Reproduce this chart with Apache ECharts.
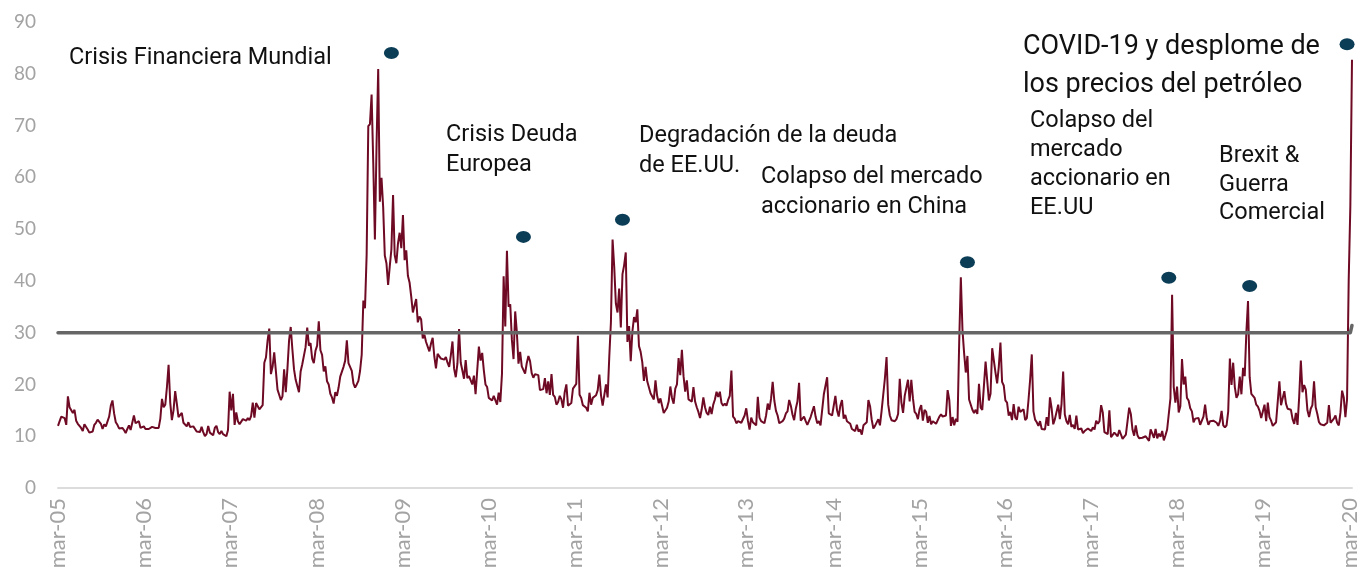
<!DOCTYPE html>
<html lang="es">
  <head>
    <meta charset="UTF-8" />
    <title>VIX 2005-2020</title>
    <script src="https://cdn.jsdelivr.net/npm/echarts@6/dist/echarts.min.js"></script>
    <style>
      html, body { margin: 0; padding: 0; background: #fff; }
    </style>
  </head>

  <body>
    <div id="main" style="width: 1363px; height: 572px"></div>

    <script type="text/javascript">
      // weekly VIX readings (Friday), each block runs from the first week of March to the end of February
      const v2005 = [12.0, 12.9, 13.8, 14.0, 13.5, 12.2, 17.7, 15.6, 15.3, 14.5, 15.1, 13.0, 12.4, 12.2, 11.6, 11.0, 12.3,
        12.0, 11.3, 10.7, 10.6, 10.9, 12.2, 12.6, 13.2, 13.4, 12.4, 11.4, 12.3, 11.9, 11.8, 13.8, 15.9, 16.9, 14.4,
        12.7, 12.2, 11.5, 11.3, 11.6, 11.2, 10.6, 11.4, 12.1, 11.2, 11.3, 14.0, 12.5, 12.7, 12.9, 11.6, 11.8];
      const v2006 = [11.9, 11.4, 11.2, 11.4, 11.4, 11.8, 11.6, 11.6, 11.6, 11.6, 13.4, 17.2, 15.6, 16.1, 19.5, 23.8, 16.5, 13.1,
        15.0, 18.7, 16.3, 13.7, 13.4, 14.5, 12.6, 12.5, 11.9, 12.7, 11.8, 11.9, 11.9, 11.6, 10.9, 11.1, 10.8,
        11.8, 10.8, 10.0, 10.4, 12.0, 10.7, 10.6, 10.2, 11.6, 12.0, 10.8, 10.4, 11.0, 10.4, 10.6, 10.0, 11.2];
      const v2007 = [18.6, 15.0, 18.2, 12.2, 14.6, 12.9, 12.3, 12.1, 13.3, 13.1, 13.0, 13.5, 13.1, 13.9, 16.5, 13.6, 16.4, 16.2,
        15.2, 15.2, 16.0, 24.2, 25.2, 28.5, 30.8, 22.0, 23.4, 26.2, 26.5, 19.0, 18.0, 17.0, 17.7, 22.9, 18.5,
        23.0, 28.5, 31.1, 26.8, 22.9, 20.9, 20.7, 18.5, 22.5, 23.9, 24.1, 27.2, 31.0, 27.5, 28.0, 25.0, 24.1, 26.5];
      const v2008 = [27.5, 32.2, 26.6, 25.7, 22.5, 23.5, 20.6, 20.0, 18.2, 17.5, 16.3, 18.5, 17.8, 19.4, 21.5, 21.4, 23.4,
        24.6, 28.5, 24.1, 23.9, 22.6, 20.2, 19.4, 20.0, 20.7, 22.6, 25.7, 36.2, 34.7, 45.1, 69.9, 70.3, 76.0, 62.9,
        48.0, 66.3, 80.9, 55.3, 59.9, 54.3, 44.9, 43.4, 39.2, 42.8, 46.1, 56.6, 45.0, 43.4, 47.3, 49.3, 46.3];
      const v2009 = [52.7, 44.0, 45.9, 41.0, 39.7, 37.0, 33.9, 35.2, 36.5, 32.0, 33.1, 32.6, 28.9, 29.6, 28.2, 27.9, 26.4,
        27.9, 29.0, 25.4, 23.1, 25.9, 26.0, 25.0, 25.0, 24.8, 25.3, 24.2, 23.4, 25.6, 28.3, 23.0, 21.4, 24.0, 30.7,
        24.2, 22.7, 21.1, 24.7, 21.2, 21.6, 21.7, 20.0, 21.7, 18.1, 17.9, 27.3, 24.6, 26.1, 22.7, 20.0, 19.5];
      const v2010 = [17.4, 17.6, 16.9, 17.8, 17.5, 16.1, 18.4, 16.6, 22.1, 40.9, 31.2, 45.8, 35.0, 35.5, 28.6, 24.9, 34.1,
        30.1, 24.0, 26.3, 23.5, 23.5, 22.1, 24.1, 25.5, 24.5, 22.2, 21.3, 22.0, 21.7, 21.8, 18.9, 19.0, 19.1, 21.2,
        18.3, 20.6, 18.0, 22.0, 18.0, 17.6, 16.1, 16.6, 17.8, 17.1, 15.5, 18.5, 20.0, 15.9, 15.7, 16.4, 19.2];
      const v2011 = [19.1, 20.1, 29.4, 18.0, 17.4, 16.0, 16.0, 15.5, 14.8, 18.4, 16.1, 17.4, 17.1, 17.9, 18.9, 21.9, 17.9,
        15.9, 16.0, 20.0, 17.5, 25.3, 32.0, 48.0, 42.7, 35.6, 33.9, 38.5, 31.0, 41.3, 43.0, 45.5, 28.2, 31.3, 24.5,
        30.2, 33.0, 32.0, 34.5, 27.4, 26.3, 24.3, 20.7, 23.4, 20.6, 20.9, 18.3, 18.5, 17.1, 20.8, 17.8, 16.4];
      const v2012 = [17.3, 17.1, 14.5, 14.8, 15.5, 16.7, 19.6, 17.4, 16.3, 19.2, 20.0, 25.1, 21.8, 26.7, 21.6, 18.6, 20.8, 17.1,
        17.1, 16.7, 19.5, 16.7, 15.6, 14.7, 13.5, 15.2, 17.5, 15.6, 14.5, 14.1, 15.7, 14.3, 16.1, 17.1, 18.6,
        17.6, 18.6, 16.4, 15.9, 16.3, 15.9, 17.0, 17.8, 22.7, 13.8, 13.4, 12.5, 12.9, 12.9, 12.6, 12.5, 14.0];
      const v2013 = [15.4, 13.0, 11.3, 13.6, 12.7, 13.0, 12.1, 17.6, 13.6, 12.9, 12.6, 12.5, 14.0, 16.3, 15.1, 17.2, 20.5, 16.9,
        14.9, 14.0, 12.5, 12.7, 12.9, 13.4, 14.4, 14.8, 17.0, 15.9, 14.2, 13.1, 15.3, 16.7, 20.3, 13.0, 13.1,
        13.8, 12.9, 12.2, 12.3, 13.7, 13.8, 15.8, 13.8, 12.5, 12.9, 12.1, 12.4, 18.1, 18.4, 21.4, 14.4, 14.7, 14.0];
      const v2014 = [14.1, 17.8, 15.0, 13.8, 15.9, 17.0, 13.4, 14.1, 12.9, 12.9, 12.4, 11.4, 11.4, 11.0, 12.2, 10.9, 11.3,
        10.3, 12.1, 12.1, 12.7, 17.0, 15.8, 13.2, 11.5, 12.0, 12.1, 13.3, 12.1, 14.9, 14.6, 21.2, 25.3, 16.1, 14.0,
        13.1, 12.9, 12.9, 13.3, 14.3, 21.1, 16.5, 14.5, 17.8, 17.5, 20.9, 16.7, 20.9, 17.3, 14.7, 14.3, 13.3];
      const v2015 = [15.2, 16.0, 13.0, 15.1, 14.7, 12.6, 13.9, 12.3, 12.9, 12.9, 12.4, 12.1, 13.8, 14.2, 13.8, 14.0, 14.0,
        18.9, 17.0, 12.0, 13.7, 12.1, 13.4, 12.8, 28.0, 40.7, 30.5, 26.0, 22.3, 25.5, 17.1, 17.1, 15.1, 14.5, 15.1,
        14.3, 20.1, 15.5, 15.1, 14.8, 24.4, 20.7, 16.9, 18.2, 27.0, 27.0, 22.3, 20.2, 23.4, 28.1, 20.5, 19.8];
      const v2016 = [16.9, 16.5, 14.0, 14.7, 13.1, 16.2, 13.6, 13.2, 15.7, 14.7, 15.0, 15.2, 13.1, 13.5, 17.0, 21.0, 25.8,
        14.8, 13.2, 12.7, 12.0, 12.9, 11.4, 11.6, 11.3, 13.7, 12.0, 17.5, 15.4, 12.3, 13.3, 13.5, 16.1, 13.3, 16.2,
        22.5, 14.2, 12.9, 12.3, 14.1, 11.8, 12.2, 11.4, 14.0, 11.3, 11.2, 11.5, 10.6, 11.0, 10.9, 11.5, 11.5];
      const v2017 = [11.0, 11.7, 11.3, 13.0, 12.4, 12.9, 16.0, 14.6, 10.8, 10.6, 10.4, 15.0, 9.8, 9.8, 10.7, 10.4, 10.0, 11.2,
        11.2, 9.5, 9.4, 10.3, 10.0, 15.5, 14.3, 11.3, 10.1, 12.1, 10.2, 9.6, 9.5, 9.7, 9.6, 10.0, 9.8,
        9.1, 11.3, 11.4, 9.7, 11.4, 9.6, 10.5, 9.9, 11.0, 9.2, 10.2, 11.3, 11.1, 17.3, 37.3, 19.5, 16.5];
      const v2018 = [19.6, 14.6, 15.8, 24.9, 20.0, 21.5, 17.4, 16.9, 15.4, 14.8, 12.7, 13.4, 13.2, 13.5, 12.2, 12.0, 13.8, 16.1,
        13.4, 12.2, 12.9, 13.0, 13.0, 13.2, 12.6, 12.0, 12.9, 14.9, 12.1, 11.7, 12.1, 14.8, 25.0, 19.9, 24.2,
        19.5, 17.4, 18.1, 21.5, 18.1, 23.2, 21.6, 30.1, 36.1, 21.4, 18.2, 17.8, 17.4, 16.1, 15.7, 14.9, 13.5];
      const v2019 = [13.6, 16.1, 12.9, 16.5, 13.7, 13.0, 12.0, 12.1, 12.7, 12.9, 20.6, 16.0, 15.9, 18.7, 16.3, 15.3, 15.4, 15.1,
        13.3, 12.4, 14.5, 12.2, 17.6, 24.6, 18.5, 19.9, 19.0, 15.0, 13.7, 15.3, 16.0, 20.6, 15.6, 14.3, 12.7,
        12.3, 12.1, 12.1, 12.3, 12.6, 16.0, 12.6, 12.5, 13.4, 14.0, 12.6, 12.1, 14.6, 18.8, 17.5, 13.7, 17.1, 40.1];
      const v2020 = [54.5, 82.7];

      // x-axis tick labels (one per March)
      const tickLabels = ["mar-05", "mar-06", "mar-07", "mar-08", "mar-09", "mar-10", "mar-11", "mar-12",
        "mar-13", "mar-14", "mar-15", "mar-16", "mar-17", "mar-18", "mar-19", "mar-20"];

      // reference level and event markers [week index, value]
      const threshold = [[0, 30], [783, 30], [784, 31.4]];
      const eventDots = [[202, 84], [282, 48.5], [342, 51.8], [551, 43.6], [673, 40.6], [722, 39.0], [781, 85.7]];

      const vix = [].concat(v2005, v2006, v2007, v2008, v2009, v2010, v2011, v2012,
        v2013, v2014, v2015, v2016, v2017, v2018, v2019, v2020);

      // weekly dates starting Friday 4 March 2005
      const start = Date.UTC(2005, 2, 4);
      const weeks = vix.map((v, i) => new Date(start + i * 7 * 86400000));
      const categories = weeks.map((d) => d.toISOString().slice(0, 10));

      // which weeks carry a label: the first week of each March
      const labelAt = new Map();
      weeks.forEach((d, i) => {
        if (d.getUTCMonth() === 2 && d.getUTCDate() <= 7) labelAt.set(i, tickLabels[labelAt.size]);
      });

      const notes = [
        { text: "Crisis Financiera Mundial", x: 69, y: 43, size: 23.5, lh: 30 },
        { text: "Crisis Deuda\nEuropea", x: 446, y: 120, size: 23.5, lh: 30 },
        { text: "Degradación de la deuda\nde EE.UU.", x: 639, y: 121, size: 23.5, lh: 30 },
        { text: "Colapso del mercado\naccionario en China", x: 761, y: 162, size: 23.5, lh: 30 },
        { text: "Colapso del\nmercado\naccionario en\nEE.UU", x: 1030, y: 107, size: 23.5, lh: 29 },
        { text: "Brexit &\nGuerra\nComercial", x: 1219, y: 142, size: 23.5, lh: 28.5 },
        { text: "COVID-19 y desplome de\nlos precios del petróleo", x: 1023, y: 28, size: 27, lh: 38 },
      ];

      let myChart = echarts.init(document.getElementById("main"));

      let options = {
        animation: false,
        grid: { left: 58, right: 11, top: 22, bottom: 84 },
        xAxis: {
          type: "category",
          data: categories,
          boundaryGap: false,
          axisLine: { lineStyle: { color: "#dcdcdc", width: 2 } },
          axisTick: { show: false },
          axisLabel: {
            rotate: 90,
            margin: 10,
            color: "#a3a3a3",
            fontSize: 22,
            fontFamily: "Lato",
            interval: (i) => labelAt.has(i),
            formatter: (value, i) => labelAt.get(i) || "",
          },
        },
        yAxis: {
          type: "value",
          min: 0,
          max: 90,
          interval: 10,
          axisLine: { show: false },
          axisTick: { show: false },
          splitLine: { show: false },
          axisLabel: { color: "#a3a3a3", fontSize: 19, fontFamily: "Lato", margin: 22 },
        },
        series: [
          {
            name: "VIX",
            type: "line",
            data: vix,
            showSymbol: false,
            lineStyle: { color: "#6f0a24", width: 2 },
            z: 2,
          },
          {
            name: "30",
            type: "line",
            data: threshold,
            showSymbol: false,
            lineStyle: { color: "#666666", width: 3.5, cap: "round", join: "round" },
            z: 3,
          },
          {
            name: "eventos",
            type: "scatter",
            data: eventDots,
            symbol: "circle",
            symbolSize: [15, 12],
            itemStyle: { color: "#0b3d56", opacity: 1 },
            z: 4,
          },
        ],
        graphic: notes.map((n) => ({
          type: "text",
          left: n.x,
          top: n.y,
          z: 10,
          style: {
            text: n.text,
            fill: "#111111",
            fontSize: n.size,
            fontFamily: "Roboto",
            lineHeight: n.lh,
          },
        })),
      };

      myChart.setOption(options);
    </script>
  </body>
</html>
